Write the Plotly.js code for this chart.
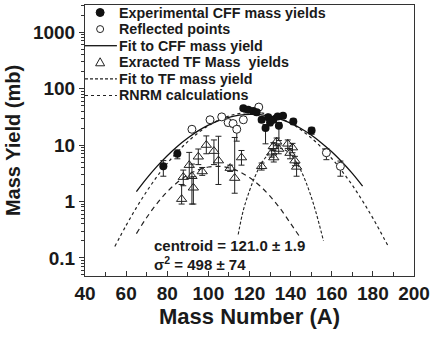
<!DOCTYPE html>
<html><head><meta charset="utf-8">
<script src="https://cdn.plot.ly/plotly-3.0.1.min.js"></script>
<style>html,body{margin:0;padding:0;background:#fff}#chart{width:437px;height:337px}</style>
</head><body><div id="chart"></div>
<script>
// Experimental CFF mass yields (filled circles)
const cffX   = [78.1, 84.9, 117.0, 119.4, 121.8, 123.5, 125.9, 127.8, 129.1, 130.0, 131.6, 133.7, 134.3, 136.3, 141.3, 150.2];
const cffY   = [4.2, 7.0, 45, 42, 40, 38, 28, 20, 31, 25, 28, 32, 22, 33, 26, 18];
const cffUp  = [1.1, 1.2, 4, 4, 4, 4, 3, 3, 3, 3, 3, 3, 3, 3, 3, 2.5];
const cffDn  = [1.4, 1.3, 4, 4, 4, 4, 3, 9.5, 3, 3, 3, 3, 10, 3, 3, 2.5];
// Reflected points (open circles)
const refX   = [92.0, 100.8, 106.5, 109.6, 112.0, 113.8, 117.0, 124.5, 157.4, 164.2];
const refY   = [19, 28, 31.5, 25, 24, 19, 28, 47, 7.3, 4.2];
const refUp  = [2, 3, 3, 3, 3, 3, 3, 5, 1.3, 1.0];
const refDn  = [2, 3, 3, 3, 3, 7.3, 3, 5, 1.8, 1.4];
// Extracted TF mass yields (open triangles)
const tfX    = [87.0, 87.8, 90.7, 92.0, 92.7, 95.1, 97.0, 99.0, 102.7, 104.9, 110.6, 112.8, 116.1, 125.9, 130.8, 131.6, 131.8, 133.2, 134.2, 138.6, 139.7, 140.9, 142.1, 142.9];
const tfY    = [1.1, 2.7, 4.4, 2.8, 1.75, 6.2, 3.4, 10.0, 7.8, 5.3, 3.9, 2.6, 6.0, 4.2, 7.3, 9.5, 6.0, 11.5, 8.5, 10.5, 7.2, 9.0, 5.3, 4.1];
const tfUp   = [0.9, 0.9, 3.0, 1.8, 1.0, 2.3, 0.6, 4.5, 4.5, 9.0, 0.5, 11, 2.0, 0.6, 1.2, 1.5, 1.0, 1.8, 1.5, 1.8, 1.5, 1.7, 1.0, 0.6];
const tfDn   = [0.2, 0.8, 1.8, 1.9, 0.85, 1.7, 0.5, 3.0, 3.3, 3.3, 0.5, 1.2, 1.6, 0.6, 1.2, 1.5, 1.0, 1.8, 1.5, 1.8, 1.5, 1.7, 1.0, 1.3];
// Fit to CFF mass yield (solid)
const fitCffX = [65, 70, 75, 80, 85, 90, 95, 100, 105, 110, 115, 120, 125, 130, 135, 140, 145, 150, 155, 160, 165, 170, 175];
const fitCffY = [1.50, 2.57, 4.18, 6.47, 9.53, 13.3, 17.8, 22.5, 27.1, 31.0, 33.7, 35.0, 34.4, 32.3, 28.7, 24.4, 19.6, 15.0, 10.9, 7.6, 5.0, 3.14, 1.87];
// Fit to TF mass yield, light group (dashed)
const fitTfLX = [65, 70, 75, 80, 85, 90, 95, 100, 105, 110, 115, 120, 125, 130, 135, 140, 144];
const fitTfLY = [0.27, 0.52, 0.92, 1.49, 2.19, 2.95, 3.63, 4.08, 4.19, 3.94, 3.38, 2.65, 1.90, 1.24, 0.745, 0.407, 0.25];
// Fit to TF mass yield, heavy group (fine dashes)
const fitTfHX = [114.5, 117, 120, 122.5, 125, 127.5, 130, 132.5, 135, 137.5, 140, 142.5, 145, 147.5, 150, 152.5, 156];
const fitTfHY = [0.26, 0.70, 1.55, 2.67, 4.15, 5.82, 7.37, 8.42, 8.7, 8.08, 6.79, 5.15, 3.52, 2.18, 1.21, 0.61, 0.20];
// RNRM calculations (dotted)
const rnrmX = [54.5, 60, 65, 70, 75, 80, 90, 100, 110, 121, 130, 140, 150, 160, 165, 170, 175, 180, 187.5];
const rnrmY = [0.159, 0.377, 0.778, 1.51, 2.76, 4.73, 11.5, 22.0, 32.7, 38, 34.4, 24.3, 13.4, 5.77, 3.44, 1.94, 1.02, 0.507, 0.16];

const legendLabels = ['Experimental CFF mass yields', 'Reflected points', 'Fit to CFF mass yield', 'Exracted TF Mass  yields', 'Fit to TF mass yield', 'RNRM calculations'];

const BF = {family: 'Liberation Sans, Arial, sans-serif', color: '#1a1a1a', weight: 700};
const eb = (up, dn) => ({type: 'data', symmetric: false, array: up, arrayminus: dn, color: '#222', thickness: 1, width: 3});

const traces = [
  {x: rnrmX, y: rnrmY, mode: 'lines', line: {color: '#222', width: 1.2, dash: 'dot', shape: 'spline'}, name: legendLabels[5]},
  {x: fitTfLX, y: fitTfLY, mode: 'lines', line: {color: '#222', width: 1.2, dash: '5px,4px', shape: 'spline'}, name: legendLabels[4]},
  {x: fitTfHX, y: fitTfHY, mode: 'lines', line: {color: '#222', width: 1.1, dash: '3px,2px', shape: 'spline'}, name: legendLabels[4]},
  {x: fitCffX, y: fitCffY, mode: 'lines', line: {color: '#111', width: 1.3, shape: 'spline'}, name: legendLabels[2]},
  {x: tfX, y: tfY, mode: 'markers', marker: {symbol: 'triangle-up-open', size: 9, color: '#222', line: {width: 1}}, error_y: eb(tfUp, tfDn), name: legendLabels[3]},
  {x: refX, y: refY, mode: 'markers', marker: {symbol: 'circle', size: 8, color: '#fff', line: {width: 1, color: '#222'}}, error_y: eb(refUp, refDn), name: legendLabels[1]},
  {x: cffX, y: cffY, mode: 'markers', marker: {symbol: 'circle', size: 8, color: '#111'}, error_y: eb(cffUp, cffDn), name: legendLabels[0]}
];

// manual legend (paper coordinates)
const rowsY = [0.9723, 0.9111, 0.8498, 0.7886, 0.7273, 0.6661];
const textX = 0.100, symX = 0.046;
const annotations = legendLabels.map((t, i) => ({
  xref: 'paper', yref: 'paper', x: textX, y: rowsY[i], xanchor: 'left', yanchor: 'middle', borderpad: 0,
  text: t, showarrow: false, font: Object.assign({}, BF, {size: 14.3})
}));
annotations.push({xref: 'paper', yref: 'paper', x: 0.205, y: 0.114, xanchor: 'left', yanchor: 'middle', showarrow: false,
  text: 'centroid = 121.0 ± 1.9', font: Object.assign({}, BF, {size: 15})});
annotations.push({xref: 'paper', yref: 'paper', x: 0.205, y: 0.045, xanchor: 'left', yanchor: 'middle', showarrow: false,
  text: 'σ<sup>2</sup> = 498 ± 74', font: Object.assign({}, BF, {size: 15})});

const shapes = [
  {type: 'circle', xref: 'paper', yref: 'paper', xsizemode: 'pixel', ysizemode: 'pixel', xanchor: symX, yanchor: rowsY[0], x0: -4, x1: 4, y0: -4, y1: 4, fillcolor: '#111', line: {color: '#111', width: 1}},
  {type: 'circle', xref: 'paper', yref: 'paper', xsizemode: 'pixel', ysizemode: 'pixel', xanchor: symX, yanchor: rowsY[1], x0: -3.5, x1: 3.5, y0: -3.5, y1: 3.5, fillcolor: '#fff', line: {color: '#222', width: 1}},
  {type: 'line', xref: 'paper', yref: 'paper', x0: 0, x1: 0.097, y0: rowsY[2], y1: rowsY[2], line: {color: '#111', width: 1.3}},
  {type: 'path', xref: 'paper', yref: 'paper', xsizemode: 'pixel', ysizemode: 'pixel', xanchor: symX, yanchor: rowsY[3], path: 'M -4.5 -3.5 L 4.5 -3.5 L 0 4.5 Z', fillcolor: 'rgba(0,0,0,0)', line: {color: '#222', width: 1}},
  {type: 'line', xref: 'paper', yref: 'paper', x0: 0, x1: 0.097, y0: rowsY[4], y1: rowsY[4], line: {color: '#222', width: 1.1, dash: '3px,2px'}},
  {type: 'line', xref: 'paper', yref: 'paper', x0: 0, x1: 0.097, y0: rowsY[5], y1: rowsY[5], line: {color: '#222', width: 1.2, dash: 'dot'}}
];

const layout = {
  width: 437, height: 337,
  margin: {l: 85, r: 23, t: 5, b: 61},
  paper_bgcolor: '#fff', plot_bgcolor: '#fff',
  showlegend: false,
  font: BF,
  xaxis: {
    range: [40, 200], dtick: 20, tick0: 40, ticks: 'inside', ticklen: 5, tickwidth: 1, tickcolor: '#333',
    minor: {ticks: 'inside', ticklen: 4, dtick: 10, tickcolor: '#333'},
    showline: true, linecolor: '#333', linewidth: 1, mirror: true, showgrid: false, zeroline: false,
    tickfont: Object.assign({}, BF, {size: 19}),
    title: {text: 'Mass Number (A)', font: Object.assign({}, BF, {size: 22}), standoff: 4}
  },
  yaxis: {
    type: 'log', range: [-1.32, 3.48], dtick: 1, exponentformat: 'none',
    ticks: 'outside', ticklen: 5, tickwidth: 1, tickcolor: '#333',
    minor: {ticks: 'outside', ticklen: 3, dtick: 'D1', tickcolor: '#333'},
    showline: true, linecolor: '#333', linewidth: 1, mirror: true, showgrid: false, zeroline: false,
    tickfont: Object.assign({}, BF, {size: 19}),
    title: {text: 'Mass Yield (mb)', font: Object.assign({}, BF, {size: 20}), standoff: 6}
  },
  annotations: annotations,
  shapes: shapes
};

Plotly.newPlot('chart', traces, layout, {displayModeBar: false, staticPlot: true});
</script></body></html>
